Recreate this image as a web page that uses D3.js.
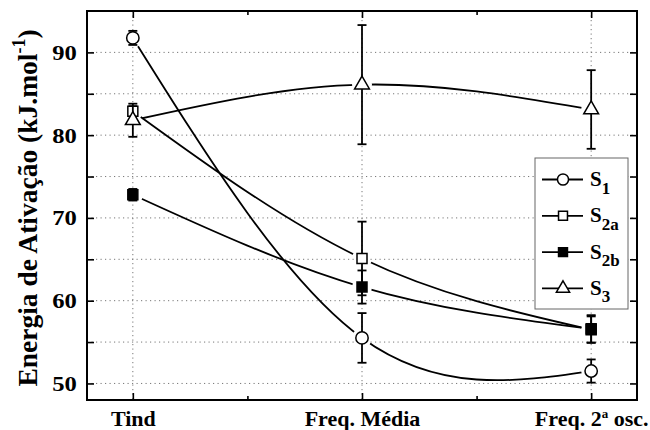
<!DOCTYPE html>
<html>
<head>
<meta charset="utf-8">
<script src="https://cdn.jsdelivr.net/npm/d3@7"></script>
<style>
  body { margin: 0; background: #fff; }
  svg { display: block; }
</style>
</head>
<body>
<svg id="chart" width="650" height="430"></svg>
<script>
// ─── DATA ─────────────────────────────────────────────────────────────────────
// Activation energy (kJ/mol) per method, with error bars.
const categories = ['Tind', 'Freq. Média', 'Freq. 2ª osc.'];
const xPos = [1, 2, 3];

const s1     = [91.75, 55.5, 51.5];
const s1Err  = [0.85, 3.0, 1.4];
const s2a    = [82.9, 65.1, 56.5];
const s2aErr = [0.6, 4.45, 1.6];
const s2b    = [72.8, 61.65, 56.6];
const s2bErr = [0.7, 2.0, 1.65];
const s3     = [81.8, 86.1, 83.1];
const s3Err  = [2.0, 7.2, 4.75];

const yTicks = [50, 60, 70, 80, 90];
const yMinor = [55, 65, 75, 85];
const xMinor = [1.5, 2.5];
// ──────────────────────────────────────────────────────────────────────────────

const series = [
  { sub: '1',  values: s1,  err: s1Err,  symbol: d3.symbolCircle,   size: 120, fill: '#fff' },
  { sub: '2a', values: s2a, err: s2aErr, symbol: d3.symbolSquare,   size: 100, fill: '#fff' },
  { sub: '2b', values: s2b, err: s2bErr, symbol: d3.symbolSquare,   size: 100, fill: '#000' },
  { sub: '3',  values: s3,  err: s3Err,  symbol: d3.symbolTriangle, size: 95,  fill: '#fff' },
];

const FONT = "'Liberation Serif', 'Times New Roman', serif";

// ─── CHART SETUP ──────────────────────────────────────────────────────────────
const margin = { top: 11, right: 13, bottom: 30, left: 87 };
const W = 650, H = 430;
const width  = W - margin.left - margin.right;
const height = H - margin.top - margin.bottom;

const svg = d3.select('#chart')
  .attr('font-family', FONT)
  .attr('font-weight', 'bold')
  .append('g')
  .attr('transform', `translate(${margin.left},${margin.top})`);

const x = d3.scaleLinear().domain([0.8, 3.2]).range([0, width]);
const y = d3.scaleLinear().domain([48, 95]).range([height, 0]);

// grid
const grid = svg.append('g')
  .attr('stroke', '#777').attr('stroke-width', 1).attr('stroke-dasharray', '1.2,3.3');
grid.selectAll('line.h')
  .data(yTicks.concat(yMinor))
  .join('line')
  .attr('x1', 0).attr('x2', width)
  .attr('y1', (d) => y(d)).attr('y2', (d) => y(d));
grid.selectAll('line.v')
  .data(xPos)
  .join('line')
  .attr('x1', (d) => x(d)).attr('x2', (d) => x(d))
  .attr('y1', 0).attr('y2', height);

// axes (ticks point inward)
function styleAxis(g) {
  g.attr('font-family', FONT).attr('font-size', 22);
  g.select('.domain').remove();
  g.selectAll('.tick line').attr('stroke', '#000').attr('stroke-width', 1.6);
  g.selectAll('text').attr('fill', '#000');
}

const xAxis = svg.append('g')
  .attr('transform', `translate(0,${height})`)
  .call(d3.axisBottom(x).tickValues(xPos).tickSize(-7).tickPadding(10.5)
    .tickFormat((d, i) => categories[i]))
  .call(styleAxis);

// superscript ª in the last label
xAxis.selectAll('.tick text').each(function (d, i) {
  const label = categories[i];
  if (!label.includes('ª')) return;
  const [a, b] = label.split('ª');
  const t = d3.select(this).text(null);
  t.append('tspan').text(a);
  t.append('tspan').attr('font-size', 13).attr('dy', -8).text('a');
  t.append('tspan').attr('dy', 8).text(b);
});

svg.append('g').attr('transform', `translate(0,${height})`)
  .call(d3.axisBottom(x).tickValues(xMinor).tickSize(-4).tickFormat(''))
  .call(styleAxis);
svg.append('g')
  .call(d3.axisTop(x).tickValues(xPos).tickSize(-7).tickFormat(''))
  .call(styleAxis);
svg.append('g')
  .call(d3.axisTop(x).tickValues(xMinor).tickSize(-4).tickFormat(''))
  .call(styleAxis);

const yAxis = svg.append('g')
  .call(d3.axisLeft(y).tickValues(yTicks).tickSize(-7).tickPadding(9))
  .call(styleAxis);
// the reference digits are set a little wide
yAxis.selectAll('.tick text').attr('transform', 'scale(1.12,1)');

svg.append('g')
  .call(d3.axisLeft(y).tickValues(yMinor).tickSize(-7).tickFormat(''))
  .call(styleAxis);
svg.append('g').attr('transform', `translate(${width},0)`)
  .call(d3.axisRight(y).tickValues(yTicks.concat(yMinor)).tickSize(-7).tickFormat(''))
  .call(styleAxis);

// y label
const yLabel = svg.append('text')
  .attr('transform', `translate(${37 - margin.left},${208 - margin.top}) rotate(-90)`)
  .attr('text-anchor', 'middle')
  .attr('font-size', 27.5);
yLabel.append('tspan').text('Energia de Ativação (kJ.mol');
yLabel.append('tspan').attr('font-size', 18).attr('dy', -12).text('-1');
yLabel.append('tspan').attr('dy', 12).text(')');

// ─── SERIES ───────────────────────────────────────────────────────────────────
const line = d3.line()
  .x((d, i) => x(xPos[i]))
  .y((d) => y(d))
  .curve(d3.curveNatural);

const defs = svg.append('defs');

series.forEach((s, k) => {
  // gaps in the line around each symbol
  const mask = defs.append('mask').attr('id', `gap-${k}`)
    .attr('maskUnits', 'userSpaceOnUse')
    .attr('x', -margin.left).attr('y', -margin.top).attr('width', W).attr('height', H);
  mask.append('rect')
    .attr('x', -margin.left).attr('y', -margin.top).attr('width', W).attr('height', H)
    .attr('fill', '#fff');
  mask.selectAll('circle')
    .data(s.values)
    .join('circle')
    .attr('cx', (d, i) => x(xPos[i])).attr('cy', (d) => y(d))
    .attr('r', 10).attr('fill', '#000');

  svg.append('path')
    .datum(s.values)
    .attr('d', line)
    .attr('fill', 'none')
    .attr('stroke', '#000')
    .attr('stroke-width', 1.8)
    .attr('mask', `url(#gap-${k})`);
});

series.forEach((s) => {
  const g = svg.append('g').attr('stroke', '#000').attr('stroke-width', 1.8);
  const pts = s.values.map((v, i) => ({ x: xPos[i], v, e: s.err[i] }));

  g.selectAll('line.bar')
    .data(pts)
    .join('line')
    .attr('x1', (d) => x(d.x)).attr('x2', (d) => x(d.x))
    .attr('y1', (d) => y(d.v - d.e)).attr('y2', (d) => y(d.v + d.e));
  g.selectAll('line.capTop')
    .data(pts)
    .join('line')
    .attr('x1', (d) => x(d.x) - 4.5).attr('x2', (d) => x(d.x) + 4.5)
    .attr('y1', (d) => y(d.v + d.e)).attr('y2', (d) => y(d.v + d.e));
  g.selectAll('line.capBot')
    .data(pts)
    .join('line')
    .attr('x1', (d) => x(d.x) - 4.5).attr('x2', (d) => x(d.x) + 4.5)
    .attr('y1', (d) => y(d.v - d.e)).attr('y2', (d) => y(d.v - d.e));

  g.selectAll('path.sym')
    .data(pts)
    .join('path')
    .attr('transform', (d) => `translate(${x(d.x)},${y(d.v)})`)
    .attr('d', d3.symbol(s.symbol, s.size))
    .attr('fill', s.fill)
    .attr('stroke-width', 1.5);
});

// frame
svg.append('rect')
  .attr('width', width).attr('height', height)
  .attr('fill', 'none').attr('stroke', '#000').attr('stroke-width', 2);

// ─── LEGEND ───────────────────────────────────────────────────────────────────
const legend = svg.append('g').attr('transform', `translate(${535 - margin.left},${158 - margin.top})`);
legend.append('rect')
  .attr('width', 93).attr('height', 151)
  .attr('fill', '#fff').attr('stroke', '#666').attr('stroke-width', 1);

const rows = legend.selectAll('g.row')
  .data(series)
  .join('g')
  .attr('transform', (d, i) => `translate(0,${21.5 + i * 36.3})`);
rows.append('line')
  .attr('x1', 7).attr('x2', 48)
  .attr('stroke', '#000').attr('stroke-width', 1.8);
rows.append('path')
  .attr('transform', 'translate(28,0)')
  .attr('d', (d) => d3.symbol(d.symbol, d.size * 0.8)())
  .attr('fill', (d) => d.fill)
  .attr('stroke', '#000').attr('stroke-width', 1.5);
const lt = rows.append('text')
  .attr('x', 55).attr('y', 6.5)
  .attr('font-size', 21);
lt.append('tspan').text('S');
lt.append('tspan').attr('font-size', 17).attr('dy', 7.5).text((d) => d.sub);
</script>
</body>
</html>
